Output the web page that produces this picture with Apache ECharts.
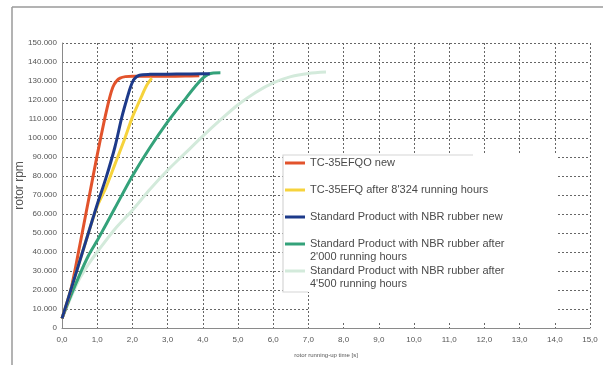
<!DOCTYPE html>
<html>
<head>
<meta charset="utf-8">
<script src="https://cdn.jsdelivr.net/npm/echarts@6/dist/echarts.min.js"></script>
<style>
html,body{margin:0;padding:0;background:#fff;}
#c{width:603px;height:365px;}
</style>
</head>
<body>
<div id="c"></div>
<script>
// ---- data (time [s], rotor rpm) ----
var seriesNames = [
  'TC-35EFQO new',
  "TC-35EFQ after 8'324 running hours",
  'Standard Product with NBR rubber new',
  "Standard Product with NBR rubber after\n2'000 running hours",
  "Standard Product with NBR rubber after\n4'500 running hours"
];
var redData = [[0,5000],[0.25,20000],[0.5,43000],[0.75,67000],[1.0,91000],[1.2,109000],[1.35,121000],[1.45,127000],[1.55,130000],[1.65,131500],[1.8,132300],[2.0,132500],[2.5,132500],[3.0,132500],[3.5,132600],[3.9,132800]];
var yellowData = [[0,5000],[0.25,20000],[0.5,35000],[0.75,50000],[1.0,64000],[1.25,74000],[1.5,86000],[1.75,98000],[2.0,111000],[2.25,121500],[2.4,127500],[2.55,131500]];
var blueData = [[0,5000],[0.25,20000],[0.5,35000],[0.75,50000],[1.0,65000],[1.25,79000],[1.5,95000],[1.7,111000],[1.85,121000],[1.95,127000],[2.05,131000],[2.2,133000],[2.5,133500],[3.0,133600],[3.5,133700],[4.0,133800],[4.2,133800]];
var greenData = [[0,5000],[0.25,17000],[0.5,28000],[0.75,38000],[1.0,46000],[1.5,63000],[2.0,80000],[2.5,95000],[3.0,108500],[3.5,120500],[3.8,127500],[4.0,131500],[4.15,133500],[4.3,134200],[4.5,134300]];
var paleData = [[0,5000],[0.25,16000],[0.5,26000],[0.75,33500],[1.0,40000],[1.5,52000],[2.0,62000],[2.5,73000],[3.0,83000],[3.5,92000],[4.0,101000],[4.5,109500],[5.0,117500],[5.5,124000],[6.0,129000],[6.5,132300],[7.0,134000],[7.5,134700]];
var colors = ['#e2532c', '#f6d33c', '#1d3a8a', '#34a27a', '#d3eadb'];
var xMin = 0, xMax = 15, xStep = 1;
var yMin = 0, yMax = 150000, yStep = 10000;

var chart = echarts.init(document.getElementById('c'), null, {renderer: 'canvas'});

function mkSeries(i, data, z) {
  return {
    name: seriesNames[i], type: 'line', data: data, smooth: 0.3, showSymbol: false,
    lineStyle: {color: colors[i], width: 3}, itemStyle: {color: colors[i]}, z: z, animation: false
  };
}

var legendX = 285, textX = 310;
var legendRows = [
  {y: 163, t: seriesNames[0]},
  {y: 190, t: seriesNames[1]},
  {y: 217, t: seriesNames[2]},
  {y: 244, t: seriesNames[3]},
  {y: 271, t: seriesNames[4]}
];
var graphics = [
  {type: 'polygon', z: 50, silent: true,
   shape: {points: [[283,154],[556,154],[556,323],[309,323],[309,292],[283,292]]},
   style: {fill: '#fff'}},
  {type: 'polyline', z: 51, silent: true,
   shape: {points: [[473,155],[283,155],[283,292],[308,292]]},
   style: {stroke: '#d6d6d6', lineWidth: 1.2, fill: null}},
  {type: 'line', z: 51, silent: true, shape: {x1: 12, y1: 7, x2: 603, y2: 7}, style: {stroke: '#9a9a9a', lineWidth: 1.5}},
  {type: 'line', z: 51, silent: true, shape: {x1: 12, y1: 7, x2: 12, y2: 365}, style: {stroke: '#9a9a9a', lineWidth: 1.5}}
];
legendRows.forEach(function (r, i) {
  graphics.push({type: 'line', z: 52, silent: true,
    shape: {x1: legendX, y1: r.y, x2: legendX + 20, y2: r.y},
    style: {stroke: colors[i], lineWidth: 3}});
  graphics.push({type: 'text', z: 52, silent: true, x: textX, y: r.y - 7,
    style: {text: r.t, fill: '#4a4a4a', font: '11px "Liberation Sans", Arial, sans-serif', lineHeight: 13}});
});

chart.setOption({
  animation: false,
  backgroundColor: '#fff',
  grid: {left: 62, right: 13, top: 43, bottom: 37, containLabel: false},
  xAxis: {
    type: 'value', min: xMin, max: xMax, interval: xStep,
    name: 'rotor running-up time [s]', nameLocation: 'middle', nameGap: 24,
    nameTextStyle: {fontSize: 6, color: '#555', fontFamily: 'Liberation Sans'},
    axisLine: {show: true, lineStyle: {color: '#8a8a8a', width: 1}},
    axisTick: {show: false},
    axisLabel: {fontSize: 8, color: '#555', margin: 8, fontFamily: 'Liberation Sans',
      formatter: function (v) { return v.toFixed(1).replace('.', ','); }},
    splitLine: {show: true, lineStyle: {color: '#666', type: [2, 2], width: 1}}
  },
  yAxis: {
    type: 'value', min: yMin, max: yMax, interval: yStep,
    name: 'rotor rpm', nameLocation: 'middle', nameGap: 36, nameMoveOverlap: false,
    nameTextStyle: {fontSize: 12, color: '#555', fontFamily: 'Liberation Sans'},
    axisLine: {show: true, lineStyle: {color: '#8a8a8a', width: 1}},
    axisTick: {show: false},
    axisLabel: {fontSize: 8, color: '#555', margin: 5, fontFamily: 'Liberation Sans',
      formatter: function (v) { return v === 0 ? '0' : String(v).replace(/\B(?=(\d{3})+(?!\d))/g, '.'); }},
    splitLine: {show: true, lineStyle: {color: '#666', type: [2, 2], width: 1}}
  },
  series: [
    mkSeries(4, paleData, 2),
    mkSeries(3, greenData, 3),
    mkSeries(0, redData, 4),
    mkSeries(1, yellowData, 5),
    mkSeries(2, blueData, 6)
  ],
  graphic: graphics
});
</script>
</body>
</html>
